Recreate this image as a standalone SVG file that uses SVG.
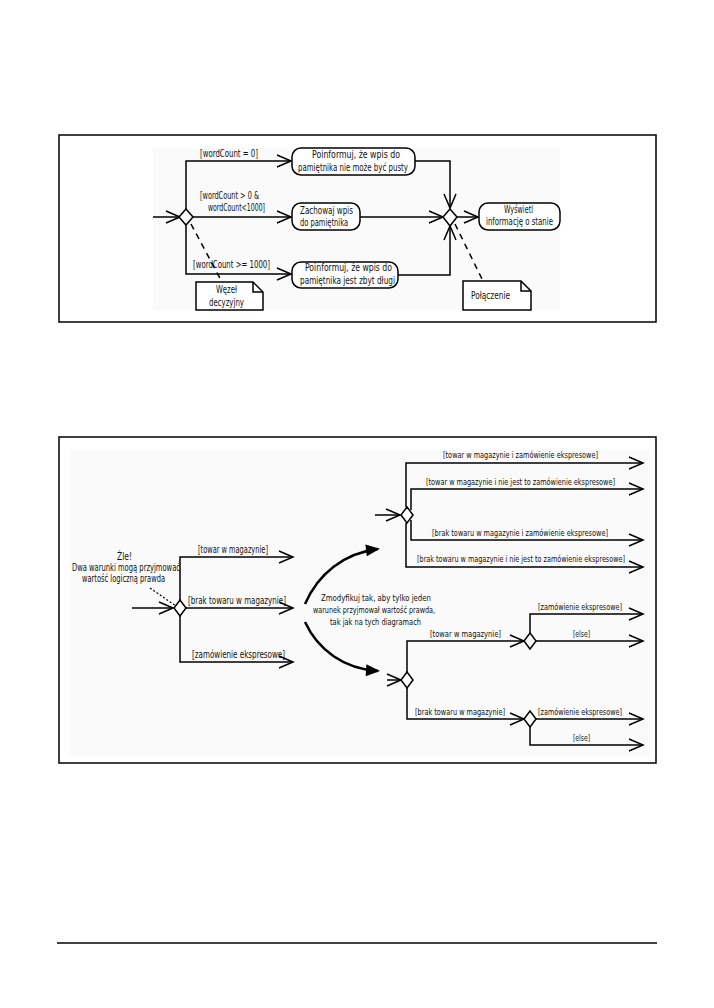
<svg xmlns="http://www.w3.org/2000/svg" width="714" height="1008" viewBox="0 0 714 1008">
<style>
text{font-family:"DejaVu Sans Condensed","Liberation Sans",sans-serif;fill:#111}
.t1{font-size:10.5px}
.t2{font-size:9.5px}
.t3{font-size:10px}
.c{text-anchor:middle}
.ln{fill:none;stroke:#000;stroke-width:1.5}
.node{fill:#fff;stroke:#000;stroke-width:1.5}
.dia{fill:#fff;stroke:#000;stroke-width:1.5}
.frame{fill:#fff;stroke:#000;stroke-width:1.5}
.dash{fill:none;stroke:#000;stroke-width:1.5;stroke-dasharray:6 5}
.dot{fill:none;stroke:#000;stroke-width:1.2;stroke-dasharray:2 2}
.bg{fill:#fafafa}
</style>
<defs>
<marker id="open" markerUnits="userSpaceOnUse" markerWidth="16" markerHeight="14" refX="14" refY="6" orient="auto" overflow="visible">
<path d="M0,0 L14,6 L0,12" fill="none" stroke="#000" stroke-width="1.5"/>
</marker>
<marker id="solid" markerUnits="userSpaceOnUse" markerWidth="16" markerHeight="14" refX="12" refY="6" orient="auto" overflow="visible">
<path d="M0,0 L14,6 L0,12 Z" fill="#000"/>
</marker>
</defs>
<rect width="714" height="1008" fill="#fff"/>

<!-- Frame 1 -->
<rect id="frame1" class="frame" x="59" y="135" width="597" height="187"/>
<rect class="bg" x="153" y="148" width="407" height="162"/>

<g id="connectors1">
<path class="ln" d="M153,217 H180" marker-end="url(#open)"/>
<path class="ln" d="M186,209 V161 H291" marker-end="url(#open)"/>
<path class="ln" d="M193,217 H291" marker-end="url(#open)"/>
<path class="ln" d="M186,225 V274 H291" marker-end="url(#open)"/>
<path class="ln" d="M415,161 H450 V208" marker-end="url(#open)"/>
<path class="ln" d="M360,217 H443" marker-end="url(#open)"/>
<path class="ln" d="M398,275 H450 V226" marker-end="url(#open)"/>
<path class="ln" d="M457,217 H478" marker-end="url(#open)"/>
<path class="dash" d="M191,224 L222,282"/>
<path class="dash" d="M455,224 L483,281"/>
<text class="t1" x="200" y="157" textLength="58" lengthAdjust="spacingAndGlyphs">[wordCount = 0]</text>
<text class="t1" x="200" y="199" textLength="59" lengthAdjust="spacingAndGlyphs">[wordCount &gt; 0 &amp;</text>
<text class="t1" x="208" y="211" textLength="57" lengthAdjust="spacingAndGlyphs">wordCount&lt;1000]</text>
<text class="t1" x="193" y="268" textLength="77" lengthAdjust="spacingAndGlyphs">[wordCount &gt;= 1000]</text>
</g>

<g id="decision1"><path class="dia" d="M186,209 L193,217 L186,225 L179,217 Z"/></g>
<g id="merge1"><path class="dia" d="M450,209 L457,217 L450,226 L443,217 Z"/></g>

<g id="node-empty">
<rect class="node" x="292" y="148" width="123" height="27" rx="9"/>
<text class="t1" x="312" y="158" textLength="88" lengthAdjust="spacingAndGlyphs">Poinformuj, że wpis do</text>
<text class="t1" x="298" y="171" textLength="110" lengthAdjust="spacingAndGlyphs">pamiętnika nie może być pusty</text>
</g>
<g id="node-save">
<rect class="node" x="292" y="203" width="68" height="27" rx="9"/>
<text class="t1" x="300" y="214" textLength="53" lengthAdjust="spacingAndGlyphs">Zachowaj wpis</text>
<text class="t1" x="300" y="226" textLength="48" lengthAdjust="spacingAndGlyphs">do pamiętnika</text>
</g>
<g id="node-long">
<rect class="node" x="292" y="262" width="106" height="26" rx="9"/>
<text class="t1" x="305" y="271" textLength="87" lengthAdjust="spacingAndGlyphs">Poinformuj, że wpis do</text>
<text class="t1" x="300" y="284" textLength="95" lengthAdjust="spacingAndGlyphs">pamiętnika jest zbyt długi</text>
</g>
<g id="node-show">
<rect class="node" x="479" y="203" width="81" height="27" rx="9"/>
<text class="t1" x="504" y="213" textLength="29" lengthAdjust="spacingAndGlyphs">Wyświetl</text>
<text class="t1" x="486" y="225" textLength="67" lengthAdjust="spacingAndGlyphs">informację o stanie</text>
</g>
<g id="note-decision">
<path class="node" d="M196,282 H253 L263,292 V310 H196 Z"/>
<path class="ln" d="M253,282 V292 H263"/>
<text class="t1" x="216" y="293" textLength="21" lengthAdjust="spacingAndGlyphs">Węzeł</text>
<text class="t1" x="209" y="306" textLength="35" lengthAdjust="spacingAndGlyphs">decyzyjny</text>
</g>
<g id="note-merge">
<path class="node" d="M463,281 H521 L531,291 V310 H463 Z"/>
<path class="ln" d="M521,281 V291 H531"/>
<text class="t1" x="471" y="299" textLength="39" lengthAdjust="spacingAndGlyphs">Połączenie</text>
</g>

<!-- Frame 2 -->
<rect id="frame2" class="frame" x="59" y="437" width="597" height="326"/>
<rect class="bg" x="70" y="450" width="580" height="305"/>

<g id="connectors2">
<path class="ln" d="M132,608 H173" marker-end="url(#open)"/>
<path class="ln" d="M180,600 V557 H293" marker-end="url(#open)"/>
<path class="ln" d="M186,608 H293" marker-end="url(#open)"/>
<path class="ln" d="M180,616 V662 H293" marker-end="url(#open)"/>
<path class="dot" d="M150,588 L176,606"/>
<text class="t3" x="198" y="553" textLength="70" lengthAdjust="spacingAndGlyphs">[towar w magazynie]</text>
<text class="t3" x="188" y="604" textLength="98" lengthAdjust="spacingAndGlyphs">[brak towaru w magazynie]</text>
<text class="t3" x="192" y="658" textLength="93" lengthAdjust="spacingAndGlyphs">[zamówienie ekspresowe]</text>
<path fill="none" stroke="#000" stroke-width="2.5" d="M305,604 C318,574 344,553 378,549" marker-end="url(#solid)"/>
<path fill="none" stroke="#000" stroke-width="2.5" d="M305,622 C318,650 344,669 378,671" marker-end="url(#solid)"/>
<text class="t2" x="321" y="601" textLength="110" lengthAdjust="spacingAndGlyphs">Zmodyfikuj tak, aby tylko jeden</text>
<text class="t2" x="313" y="613" textLength="122" lengthAdjust="spacingAndGlyphs">warunek przyjmował wartość prawda,</text>
<text class="t2" x="330" y="625" textLength="91" lengthAdjust="spacingAndGlyphs">tak jak na tych diagramach</text>
<path class="ln" d="M375,515 H400" marker-end="url(#open)"/>
<path class="ln" d="M406,507 V463 H643" marker-end="url(#open)"/>
<path class="ln" d="M411,510 V489 H643" marker-end="url(#open)"/>
<path class="ln" d="M411,520 V540 H643" marker-end="url(#open)"/>
<path class="ln" d="M406,523 V567 H643" marker-end="url(#open)"/>
<text class="t2" x="443" y="458" textLength="155" lengthAdjust="spacingAndGlyphs">[towar w magazynie i zamówienie ekspresowe]</text>
<text class="t2" x="426" y="485" textLength="189" lengthAdjust="spacingAndGlyphs">[towar w magazynie i nie jest to zamówienie ekspresowe]</text>
<text class="t2" x="432" y="536" textLength="176" lengthAdjust="spacingAndGlyphs">[brak towaru w magazynie i zamówienie ekspresowe]</text>
<text class="t2" x="417" y="562" textLength="208" lengthAdjust="spacingAndGlyphs">[brak towaru w magazynie i nie jest to zamówienie ekspresowe]</text>
<path class="ln" d="M387,680 H401" marker-end="url(#open)"/>
<path class="ln" d="M407,672 V641 H524" marker-end="url(#open)"/>
<path class="ln" d="M407,688 V719 H524" marker-end="url(#open)"/>
<path class="ln" d="M530,633 V614 H643" marker-end="url(#open)"/>
<path class="ln" d="M536,641 H643" marker-end="url(#open)"/>
<path class="ln" d="M536,719 H643" marker-end="url(#open)"/>
<path class="ln" d="M530,727 V745 H643" marker-end="url(#open)"/>
<text class="t2" x="430" y="637" textLength="71" lengthAdjust="spacingAndGlyphs">[towar w magazynie]</text>
<text class="t2" x="415" y="715" textLength="90" lengthAdjust="spacingAndGlyphs">[brak towaru w magazynie]</text>
<text class="t2" x="538" y="610" textLength="84" lengthAdjust="spacingAndGlyphs">[zamówienie ekspresowe]</text>
<text class="t2" x="573" y="637" textLength="17" lengthAdjust="spacingAndGlyphs">[else]</text>
<text class="t2" x="538" y="715" textLength="84" lengthAdjust="spacingAndGlyphs">[zamówienie ekspresowe]</text>
<text class="t2" x="573" y="741" textLength="17" lengthAdjust="spacingAndGlyphs">[else]</text>
</g>

<g id="decision-wrong"><path class="dia" d="M180,600 L186,608 L180,616 L174,608 Z"/></g>
<g id="note-wrong">
<text class="t3" x="117" y="560" textLength="15" lengthAdjust="spacingAndGlyphs">Źle!</text>
<text class="t3" x="72" y="571" textLength="108" lengthAdjust="spacingAndGlyphs">Dwa warunki mogą przyjmować</text>
<text class="t3" x="82" y="582" textLength="83" lengthAdjust="spacingAndGlyphs">wartość logiczną prawda</text>
</g>
<g id="decision-four"><path class="dia" d="M407,507 L413,515 L407,523 L401,515 Z"/></g>
<g id="decision-stock"><path class="dia" d="M407,672 L413,680 L407,688 L401,680 Z"/></g>
<g id="decision-instock"><path class="dia" d="M530,633 L536,641 L530,649 L524,641 Z"/></g>
<g id="decision-nostock"><path class="dia" d="M530,711 L536,719 L530,727 L524,719 Z"/></g>

<line id="footer" x1="57" y1="943" x2="657" y2="943" stroke="#000" stroke-width="1.5"/>
</svg>
